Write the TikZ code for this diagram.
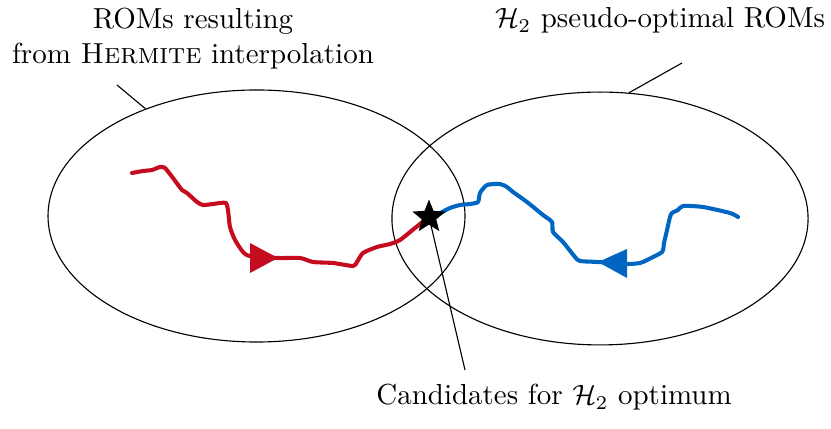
\documentclass[tikz,border=0pt]{standalone}
\usepackage{amsmath}
\usetikzlibrary{shapes.geometric}
\definecolor{romred}{RGB}{196,12,30}
\definecolor{romblue}{RGB}{0,102,193}
\tikzset{
  setellipse/.style={draw=black, line width=0.4pt, ellipse, inner sep=0pt},
  lbl/.style={inner sep=0pt, font=\fontsize{10.35}{12.5}\selectfont},
  leader/.style={draw=black, line width=0.4pt},
  pathline/.style={line width=1.45pt, line cap=round, line join=round},
}
\begin{document}
\begin{tikzpicture}[x=0.3571pt, y=-0.3571pt]
\useasboundingbox (0,0) rectangle (831,429);
% ellipses
\node[setellipse, minimum width=148.9pt, minimum height=90pt] (L) at (256.5,216) {};
\node[setellipse, minimum width=148.6pt, minimum height=90.3pt] (R) at (600,218.5) {};
% paths
\draw[pathline, romred] plot[smooth, tension=0.4] coordinates {
 (132,173) (143,171) (152,170) (160,167) (165,168) (173,178) (182,190) (187,193)
 (197,202) (203,205) (213,204) (220,203) (226,203) (228,210) (230,227) (235,240)
 (243,252) (250,256) (278,258) (300,258) (313,262) (333,263) (353,266) (357,262)
 (363,253) (377,247) (390,244) (400,240) (415,228) (430,216)};
\fill[romred] (250,243) -- (278,258) -- (250,273) -- cycle;
\draw[pathline, romblue] plot[smooth, tension=0.4] coordinates {
 (430,216) (440,213) (450,208) (460,205) (470,204) (478,202) (480,193) (487,185)
 (500,184) (507,187) (513,192) (527,202) (543,215) (552,222) (553,232) (563,242)
 (575,257) (580,261) (598,262) (627,264) (640,263) (647,260) (662,252) (664,243)
 (667,230) (670,217) (672,213) (678,210) (683,206) (703,207) (730,213) (738,217)};
\fill[romblue] (627,249) -- (598,262) -- (627,278) -- cycle;
% star
\node[star, star points=5, star point ratio=2.3, fill=black, inner sep=0pt, minimum size=12.5pt] (S) at (429,217) {};
% labels
\node[lbl, align=center, anchor=north] (tl) at (193,8) {ROMs resulting\\from \textsc{Hermite} interpolation};
\node[lbl, anchor=base] (tr) at (660,28) {$\mathcal{H}_2$ pseudo-optimal ROMs};
\node[lbl, anchor=base] (tb) at (554,405) {Candidates for $\mathcal{H}_2$ optimum};
% leader lines
\coordinate (cl) at (117,85);
\coordinate (cr) at (682,63);
\coordinate (cb) at (465,370);
\draw[leader] (cl) -- (L.136);
\draw[leader] (cr) -- (R.77);
\draw[leader] (S.center) -- (cb);
\end{tikzpicture}
\end{document}
